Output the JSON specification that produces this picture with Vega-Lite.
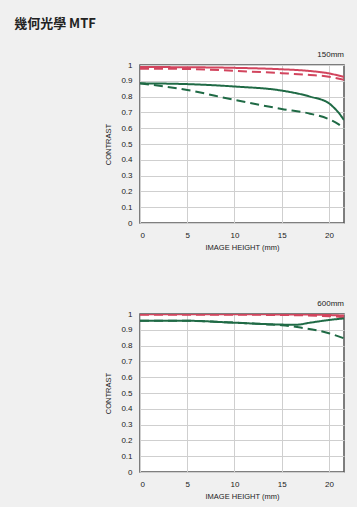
{
  "$schema": "https://vega.github.io/schema/vega-lite/v6.json",
  "background": "#f0f0f0",
  "padding": {"left": 14, "top": 18, "right": 13, "bottom": 6},
  "title": {"text": "幾何光學 MTF", "anchor": "start", "fontSize": 13, "fontWeight": "bold", "font": "Noto Sans CJK TC", "color": "#222", "dx": -90, "offset": 19},
  "config": {
    "font": "Liberation Sans",
    "view": {"stroke": "#555", "strokeWidth": 1.5, "fill": "white"},
    "axis": {"labelFont": "Liberation Sans", "labelFontSize": 8, "labelColor": "#222", "titleFont": "Liberation Sans", "titleFontSize": 7.5, "titleFontWeight": "normal", "titleColor": "#222", "gridColor": "#cfcfcf", "gridWidth": 1, "ticks": false, "domain": false, "labelPadding": 8},
    "concat": {"spacing": 47}
  },
  "datasets": {
    "t150": [
      {"x": 0, "y": 0.987, "s": "10S"}, {"x": 5, "y": 0.986, "s": "10S"}, {"x": 10, "y": 0.982, "s": "10S"}, {"x": 15, "y": 0.973, "s": "10S"}, {"x": 18, "y": 0.962, "s": "10S"}, {"x": 20, "y": 0.947, "s": "10S"}, {"x": 21.6, "y": 0.924, "s": "10S"},
      {"x": 0, "y": 0.977, "s": "10M"}, {"x": 5, "y": 0.975, "s": "10M"}, {"x": 10, "y": 0.963, "s": "10M"}, {"x": 15, "y": 0.948, "s": "10M"}, {"x": 18, "y": 0.937, "s": "10M"}, {"x": 20, "y": 0.926, "s": "10M"}, {"x": 21.6, "y": 0.907, "s": "10M"},
      {"x": 0, "y": 0.884, "s": "30S"}, {"x": 5, "y": 0.879, "s": "30S"}, {"x": 10, "y": 0.864, "s": "30S"}, {"x": 15, "y": 0.838, "s": "30S"}, {"x": 18, "y": 0.8, "s": "30S"}, {"x": 20, "y": 0.758, "s": "30S"}, {"x": 20.5, "y": 0.732, "s": "30S"}, {"x": 21, "y": 0.7, "s": "30S"}, {"x": 21.6, "y": 0.652, "s": "30S"},
      {"x": 0, "y": 0.884, "s": "30M"}, {"x": 5, "y": 0.842, "s": "30M"}, {"x": 10, "y": 0.779, "s": "30M"}, {"x": 15, "y": 0.722, "s": "30M"}, {"x": 18, "y": 0.692, "s": "30M"}, {"x": 20, "y": 0.657, "s": "30M"}, {"x": 21, "y": 0.626, "s": "30M"}, {"x": 21.6, "y": 0.598, "s": "30M"}
    ],
    "t600": [
      {"x": 0, "y": 0.998, "s": "10S"}, {"x": 10, "y": 0.998, "s": "10S"}, {"x": 18, "y": 0.996, "s": "10S"}, {"x": 21.6, "y": 0.99, "s": "10S"},
      {"x": 0, "y": 0.995, "s": "10M"}, {"x": 10, "y": 0.995, "s": "10M"}, {"x": 17, "y": 0.992, "s": "10M"}, {"x": 20, "y": 0.986, "s": "10M"}, {"x": 21.6, "y": 0.98, "s": "10M"},
      {"x": 0, "y": 0.957, "s": "30S"}, {"x": 5, "y": 0.957, "s": "30S"}, {"x": 10, "y": 0.945, "s": "30S"}, {"x": 15, "y": 0.933, "s": "30S"}, {"x": 16.5, "y": 0.932, "s": "30S"}, {"x": 18, "y": 0.945, "s": "30S"}, {"x": 20, "y": 0.962, "s": "30S"}, {"x": 21.6, "y": 0.972, "s": "30S"},
      {"x": 0, "y": 0.957, "s": "30M"}, {"x": 5, "y": 0.957, "s": "30M"}, {"x": 10, "y": 0.945, "s": "30M"}, {"x": 13, "y": 0.936, "s": "30M"}, {"x": 15, "y": 0.929, "s": "30M"}, {"x": 17, "y": 0.914, "s": "30M"}, {"x": 20, "y": 0.878, "s": "30M"}, {"x": 21.6, "y": 0.846, "s": "30M"}
    ]
  },
  "vconcat": [
    {
      "width": 204, "height": 158,
      "title": {"text": "150mm", "anchor": "end", "fontSize": 8, "fontWeight": "normal", "color": "#222", "offset": 2},
      "data": {"name": "t150"},
      "mark": {"type": "line", "strokeWidth": 2, "clip": true, "interpolate": "monotone"},
      "encoding": {
        "x": {"field": "x", "type": "quantitative", "scale": {"domain": [0, 21.6], "nice": false}, "axis": {"values": [0, 5, 10, 15, 20], "title": "IMAGE HEIGHT (mm)", "titlePadding": 4}},
        "y": {"field": "y", "type": "quantitative", "scale": {"domain": [0, 1], "nice": false}, "axis": {"values": [0, 0.1, 0.2, 0.3, 0.4, 0.5, 0.6, 0.7, 0.8, 0.9, 1], "format": ".1~f", "title": "CONTRAST", "titlePadding": 8}},
        "color": {"field": "s", "type": "nominal", "scale": {"domain": ["10S", "10M", "30S", "30M"], "range": ["#d2455e", "#d2455e", "#1f6a45", "#1f6a45"]}, "legend": null},
        "strokeDash": {"field": "s", "type": "nominal", "scale": {"domain": ["10S", "10M", "30S", "30M"], "range": [[1, 0], [9, 5], [1, 0], [9, 5]]}, "legend": null}
      }
    },
    {
      "width": 204, "height": 158,
      "title": {"text": "600mm", "anchor": "end", "fontSize": 8, "fontWeight": "normal", "color": "#222", "offset": 2},
      "data": {"name": "t600"},
      "mark": {"type": "line", "strokeWidth": 2, "clip": true, "interpolate": "monotone"},
      "encoding": {
        "x": {"field": "x", "type": "quantitative", "scale": {"domain": [0, 21.6], "nice": false}, "axis": {"values": [0, 5, 10, 15, 20], "title": "IMAGE HEIGHT (mm)", "titlePadding": 4}},
        "y": {"field": "y", "type": "quantitative", "scale": {"domain": [0, 1], "nice": false}, "axis": {"values": [0, 0.1, 0.2, 0.3, 0.4, 0.5, 0.6, 0.7, 0.8, 0.9, 1], "format": ".1~f", "title": "CONTRAST", "titlePadding": 8}},
        "color": {"field": "s", "type": "nominal", "scale": {"domain": ["10S", "10M", "30S", "30M"], "range": ["#d2455e", "#d2455e", "#1f6a45", "#1f6a45"]}, "legend": null},
        "strokeDash": {"field": "s", "type": "nominal", "scale": {"domain": ["10S", "10M", "30S", "30M"], "range": [[1, 0], [9, 5], [1, 0], [9, 5]]}, "legend": null}
      }
    }
  ]
}
